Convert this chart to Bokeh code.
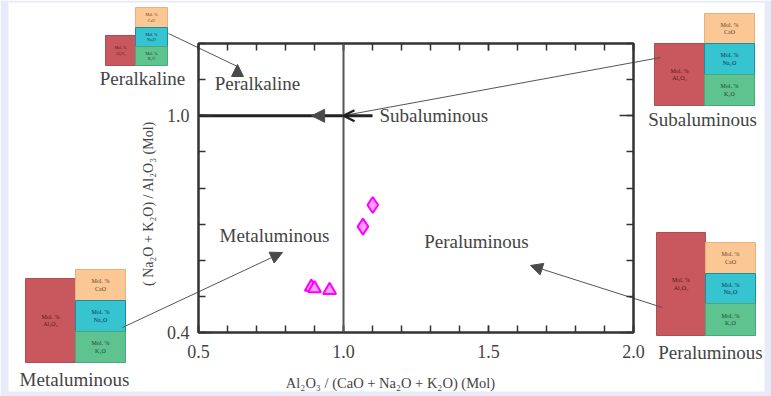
import math
from bokeh.plotting import figure
from bokeh.models import (LinearAxis, FixedTicker, Span, Label, Arrow, Range1d,
                          NormalHead, OpenHead, ColumnDataSource)
from bokeh.embed import file_html
from bokeh.resources import INLINE

# ---------------- data ----------------
x_ticks = [0.5, 1.0, 1.5, 2.0]
x_tick_labels = ["0.5", "1.0", "1.5", "2.0"]
x_minor = [0.5, 0.6, 0.7, 0.8, 0.9, 1.0, 1.1, 1.2, 1.3, 1.4, 1.5, 1.6, 1.7, 1.8, 1.9, 2.0]
y_ticks = [0.4, 1.0]
y_tick_labels = ["0.4", "1.0"]
y_minor = [0.4, 0.5, 0.6, 0.7, 0.8, 0.9, 1.0, 1.1, 1.2]

# samples: A/CNK (x) vs A/NK (y)
tri_acnk = [0.889, 0.900, 0.952]
tri_ank = [0.526, 0.522, 0.517]
dia_acnk = [1.067, 1.101]
dia_ank = [0.693, 0.753]

boundary_acnk = 1.0
boundary_ank = 1.0
subaluminous_end = 1.1

x_title = "Al\u2082O\u2083 / (CaO + Na\u2082O + K\u2082O) (Mol)"
y_title = "( Na\u2082O + K\u2082O) / Al\u2082O\u2083 (Mol)"
region_names = ["Peralkaline", "Subaluminous", "Metaluminous", "Peraluminous"]

# ---------------- geometry ----------------
W, H = 771, 396
FL, FR, FT, FB = 198, 633, 43, 332
X0, X1, Y0, Y1 = 0.5, 2.0, 0.4, 1.2
FONT = "Liberation Serif"
TXT = "#444444"
LAV = "#e7ebf7"

# ---------------- background figure (page, icons, arrows, texts) ----------------
bg = figure(width=W, height=H, x_range=Range1d(0, W), y_range=Range1d(H, 0),
            output_backend="svg", toolbar_location=None,
            x_axis_location=None, y_axis_location=None, min_border=0,
            outline_line_color=None, background_fill_color="white",
            border_fill_color="white")
bg.xgrid.grid_line_color = None
bg.ygrid.grid_line_color = None

# page frame strips
bg.quad(left=[0, 0, 764, 0], right=[8, W, W, W], top=[0, 0, 0, 391], bottom=[H, 2, H, H],
        fill_color=LAV, line_color=None)

def label(px, py, text, size, align="center", color=TXT, angle=0.0):
    bg.add_layout(Label(x=px, y=py, text=text, text_align=align, text_baseline="middle",
                        text_font=FONT, text_font_size=size, text_color=color, angle=angle))

def arrow(p0, p1, head=None, color="#555555", width=1.0, alpha=1.0):
    bg.add_layout(Arrow(x_start=p0[0], y_start=p0[1], x_end=p1[0], y_end=p1[1],
                        end=head, line_color=color, line_width=width, line_alpha=alpha))

def nhead(size=12):
    return NormalHead(size=size, fill_color="#4a4a4a", line_color="#4a4a4a", line_width=1)

# composition icons
RED, ORANGE, CYAN, GREEN = "#c9575e", "#fbc794", "#35c4d0", "#5ec38f"
icons = [
    dict(name=region_names[0], red=(105, 35, 135, 65), orange=(135, 7, 167, 27),
         cyan=(135, 27, 167, 46), green=(135, 46, 167, 65), lab=(142, 78), fs=4),
    dict(name=region_names[1], red=(654, 43, 704, 105), orange=(704, 13, 754, 43),
         cyan=(704, 43, 754, 74), green=(704, 74, 754, 105), lab=(702, 119), fs=6),
    dict(name=region_names[2], red=(25, 278, 75, 362), orange=(75, 269, 125, 300),
         cyan=(75, 300, 125, 331), green=(75, 331, 125, 362), lab=(74, 379), fs=6),
    dict(name=region_names[3], red=(656, 232, 705, 335), orange=(705, 242, 755, 273),
         cyan=(705, 273, 755, 303), green=(705, 303, 755, 335), lab=(710, 352), fs=6),
]

for ic in icons:
    fs = f"{ic['fs']}px"
    for key, fill, line, tcol, chem in [("red", RED, "#b34b52", "#5a1418", "Al\u2082O\u2083"),
                                        ("orange", ORANGE, "#e8b07a", "#6a4522", "CaO"),
                                        ("cyan", CYAN, "#1a8e9c", "#0d3550", "Na\u2082O"),
                                        ("green", GREEN, "#48a877", "#1d4630", "K\u2082O")]:
        l, t, r, b = ic[key]
        bg.quad(left=[l], right=[r], top=[t], bottom=[b], fill_color=fill,
                line_color=line, line_width=1)
        cx = (l + r) / 2
        cy = (t + b) / 2
        lh = ic["fs"] * 1.3
        label(cx, cy - lh / 2, "Mol. %", fs, color=tcol)
        label(cx, cy + lh / 2, chem, fs, color=tcol)
    label(ic["lab"][0], ic["lab"][1], ic["name"], "19px")

# arrows
arrow((168, 33), (237, 66))
arrow((237, 75), (237, 64), head=nhead(12), alpha=0)
arrow((660, 57), (349, 114))
arrow((122, 327), (282, 252), head=nhead(12))
arrow((662, 307), (530, 265), head=nhead(12))

# region labels inside the plot
label(257, 83, region_names[0], "19px")
label(379, 115, region_names[1], "19px", align="left")
label(274, 235, region_names[2], "19px")
label(476, 241, region_names[3], "19px")

# axis titles
label(390, 382, x_title, "14.5px")
label(148, 203, y_title, "14px", angle=math.pi / 2)

# ---------------- main chart (transparent, overlaid) ----------------
p = figure(width=W, height=H, x_range=(X0, X1), y_range=(Y0, Y1),
           output_backend="svg", toolbar_location=None,
           x_axis_location=None, y_axis_location=None,
           min_border_left=FL, min_border_right=W - FR,
           min_border_top=FT, min_border_bottom=H - FB,
           background_fill_alpha=0, border_fill_alpha=0,
           outline_line_color="#333333", outline_line_width=2,
           styles={"position": "absolute", "top": "0px", "left": "0px"})
p.xgrid.grid_line_color = None
p.ygrid.grid_line_color = None

def make_axis(ticks, minor, labels, show, major_in, minor_in, standoff):
    return LinearAxis(ticker=FixedTicker(ticks=ticks, minor_ticks=minor),
                      major_label_overrides={t: l for t, l in zip(ticks, labels)},
                      major_tick_in=major_in, major_tick_out=0,
                      minor_tick_in=minor_in, minor_tick_out=0,
                      axis_line_color="#333333", axis_line_width=2,
                      major_tick_line_color="#333333", major_tick_line_width=1.5,
                      minor_tick_line_color="#333333", minor_tick_line_width=1.5,
                      major_label_text_font=FONT, major_label_text_font_size="18px",
                      major_label_text_color=TXT if show else None,
                      major_label_standoff=standoff)

p.add_layout(make_axis(x_ticks, x_minor, x_tick_labels, True, 7, 7, 12), "below")
p.add_layout(make_axis(x_ticks, x_minor, x_tick_labels, False, 7, 7, 9), "above")
p.add_layout(make_axis(y_ticks, y_minor, y_tick_labels, True, 14, 7, 9), "left")
p.add_layout(make_axis(y_ticks, y_minor, y_tick_labels, False, 14, 7, 9), "right")

# boundaries
p.add_layout(Span(location=boundary_acnk, dimension="height", line_color="#555555", line_width=2))
p.line(x=[X0, subaluminous_end], y=[boundary_ank, boundary_ank], line_color="#222222", line_width=3)

# boundary arrow heads on the Subaluminous line
p.add_layout(Arrow(x_start=1.06, y_start=boundary_ank, x_end=1.0, y_end=boundary_ank,
                   end=OpenHead(size=11, line_color="#222222", line_width=2.5), line_alpha=0))
p.add_layout(Arrow(x_start=0.96, y_start=boundary_ank, x_end=0.89, y_end=boundary_ank,
                   end=NormalHead(size=13, fill_color="#4a4a4a", line_color="#4a4a4a"),
                   line_alpha=0))

# samples
src_t = ColumnDataSource(dict(x=tri_acnk, y=tri_ank))
src_d = ColumnDataSource(dict(x=dia_acnk, y=dia_ank))
p.scatter("x", "y", source=src_t, marker="triangle", size=13, line_color="#ff00ff",
          line_width=2, fill_color="#ff9cff")
p.scatter("x", "y", source=src_d, marker="diamond", size=16, line_color="#ff00ff",
          line_width=2, fill_color="#ff9cff")

open("out.html", "w").write(file_html([bg, p], INLINE))
